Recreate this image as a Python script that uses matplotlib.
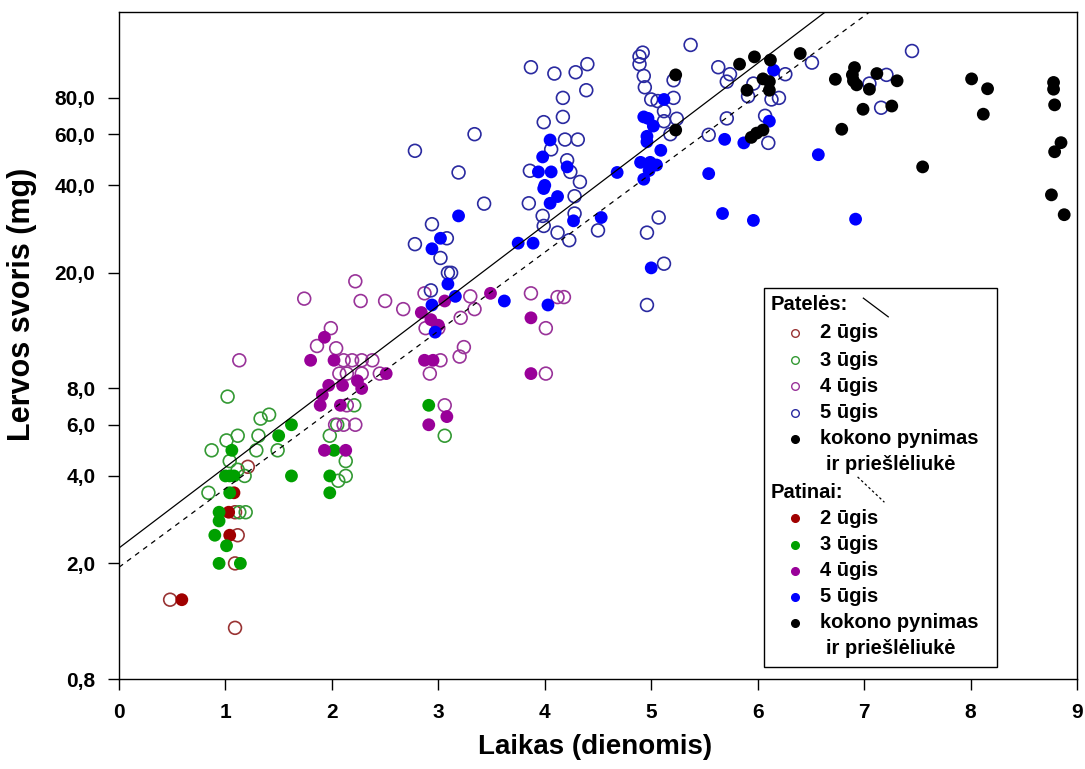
import matplotlib.pyplot as plt
import numpy as np
from matplotlib.ticker import NullLocator

plt.rcParams['font.family'] = ['Liberation Sans', 'DejaVu Sans']

# Patelės (open circles)
f2_x = [0.48, 1.09, 1.09, 1.115, 1.09, 1.21]
f2_y = [1.5, 1.2, 2.0, 2.5, 3.0, 4.3]

f3_x = [0.84, 0.87, 1.01, 1.115, 1.02, 1.04, 1.115, 1.18, 1.13, 1.19, 1.29, 1.31,
        1.33, 1.41, 1.49, 1.98, 2.05, 2.13, 2.13, 2.06, 2.21, 3.06]
f3_y = [3.5, 4.9, 5.3, 5.5, 7.5, 4.5, 4.2, 4.0, 3.0, 3.0, 4.9, 5.5,
        6.3, 6.5, 4.9, 5.5, 6.0, 4.5, 4.0, 3.85, 7.0, 5.5]

f4_x = [1.13, 1.74, 2.22, 2.27, 2.50, 2.67, 1.99, 1.86, 2.04, 2.11, 2.19, 2.28,
        2.38, 2.07, 2.14, 2.28, 2.45, 2.14, 2.03, 2.11, 2.22, 2.87, 3.30, 2.88,
        3.00, 3.34, 3.21, 3.24, 3.20, 3.02, 2.92, 3.06, 3.87, 4.12, 4.18, 4.01, 4.01]
f4_y = [10.0, 16.3, 18.7, 16.0, 16.0, 15.0, 12.9, 11.2, 11.0, 10.0, 10.0, 10.0,
        10.0, 9.0, 9.0, 9.0, 9.0, 7.0, 6.0, 6.0, 6.0, 17.0, 16.6, 12.9,
        12.9, 15.0, 14.0, 11.1, 10.3, 10.0, 9.0, 7.0, 17.0, 16.5, 16.5, 12.9, 9.0]

f5_x = [2.78, 3.34, 3.19, 2.94, 2.78, 3.08, 3.02, 3.09, 3.12, 2.93, 3.43, 4.96,
        3.99, 4.12, 4.23, 3.98, 4.28, 4.50, 5.07, 4.96, 5.12,
        3.87, 4.09, 4.29, 4.40, 4.39, 4.17, 4.17, 3.99, 4.19, 4.31, 4.06, 4.21,
        3.86, 4.24, 4.33, 4.28, 3.85,
        4.92, 4.89, 4.89, 4.93, 4.94, 5.00, 5.06, 5.12, 5.12, 5.18, 5.21, 5.21, 5.24,
        5.37, 5.63, 5.74, 5.71, 5.96, 5.91, 6.13, 6.20, 6.26, 5.71, 5.54, 6.07,
        6.10, 6.51, 7.05, 7.21, 7.16, 7.45]
f5_y = [52.6, 60.0, 44.3, 29.4, 25.1, 26.3, 22.5, 20.0, 20.0, 17.4, 34.6, 15.5,
        29.0, 27.5, 25.9, 31.4, 32.0, 28.0, 31.0, 27.5, 21.5,
        102, 97, 98, 104.5, 85, 80, 68.8, 66, 57.5, 57.5, 53.2, 48.8,
        44.9, 44.5, 41.1, 36.7, 34.7,
        114.5, 111, 104.5, 95.2, 87, 79, 78, 72, 66.5, 60, 92, 80, 67.8,
        121.7, 102, 96.5, 91, 89.6, 81, 79, 80, 96.5, 68, 59.7, 69.4,
        56, 105.8, 89.6, 96, 74, 116]

# Patinai (filled circles)
m2_x = [0.59, 1.04, 1.03, 1.08]
m2_y = [1.5, 2.5, 3.0, 3.5]

m3_x = [1.06, 1.00, 1.04, 1.08, 1.04, 0.94, 0.94, 0.90, 1.01, 0.94, 1.14, 1.50,
        1.62, 1.62, 2.02, 1.98, 1.98, 2.91]
m3_y = [4.9, 4.0, 4.0, 4.0, 3.5, 3.0, 2.8, 2.5, 2.3, 2.0, 2.0, 5.5,
        6.0, 4.0, 4.9, 4.0, 3.5, 7.0]

m4_x = [1.93, 1.80, 2.02, 2.51, 2.24, 2.28, 1.97, 1.91, 1.89, 2.10, 2.08, 1.93,
        2.13, 3.06, 3.49, 2.84, 2.93, 3.00, 2.87, 2.95, 3.08, 2.91, 3.87, 3.87]
m4_y = [12.0, 10.0, 10.0, 9.0, 8.5, 8.0, 8.2, 7.6, 7.0, 8.2, 7.0, 4.9,
        4.9, 16.0, 17.0, 14.6, 13.8, 13.2, 10.0, 10.0, 6.4, 6.0, 14.0, 9.0]

m5_x = [3.19, 2.94, 3.02, 3.09, 3.16, 2.94, 2.97, 3.62, 4.03, 3.75, 3.89, 4.27,
        4.53, 4.68, 5.00, 4.05, 3.98, 4.21, 3.94, 4.06, 4.00, 3.99, 4.12, 4.05,
        5.12, 4.93, 4.97, 5.02, 4.96, 4.96, 5.09, 4.90, 4.99, 5.05, 4.98, 4.93,
        6.15, 5.69, 5.87, 6.11, 5.54, 5.67, 5.96, 6.57, 6.92]
m5_y = [31.4, 24.2, 26.3, 18.3, 16.6, 15.5, 12.5, 16.0, 15.5, 25.3, 25.3, 30.2,
        31.0, 44.3, 20.8, 57.3, 50.1, 46.3, 44.5, 44.5, 40.0, 39.0, 36.6, 34.7,
        79, 68.8, 68, 64, 59, 56.5, 52.8, 48, 48, 47, 45, 42,
        99.6, 57.6, 56, 66.5, 43.9, 32, 30.3, 51, 30.6]

# kokono pynimas ir priešlėliukė
k_x = [5.23, 5.23, 5.83, 5.97, 6.12, 6.40, 6.05, 6.11, 6.11, 5.90, 5.94, 5.99,
       6.05, 6.73, 6.91, 6.89, 6.90, 6.93, 7.05, 7.12, 7.31, 6.99, 7.26, 6.79,
       7.55, 8.01, 8.16, 8.12, 8.78, 8.78, 8.79, 8.85, 8.79, 8.76, 8.88]
k_y = [96, 62, 104.5, 110.7, 108, 113.7, 93, 91, 85, 85, 58.5, 60.5,
       62, 92.7, 101.7, 96, 91.6, 88.7, 85.7, 97, 91.6, 73.1, 75, 62.4,
       46.3, 93, 86, 70.3, 90.4, 85.7, 75.7, 56.1, 52.2, 37.1, 31.7]

# regresijos: y = a * 10**(b*x)
fem_a, fem_b = 2.26, 0.278
mal_a, mal_b = 1.94, 0.271

yticks = [0.8, 2, 4, 6, 8, 20, 40, 60, 80]
ytick_labels = ['0,8', '2,0', '4,0', '6,0', '8,0', '20,0', '40,0', '60,0', '80,0']

c2_open, c2 = '#993333', '#a00000'
c3_open, c3 = '#339933', '#00a000'
c4_open, c4 = '#993399', '#990099'
c5_open, c5 = '#2a2aa0', '#0000ff'

fig = plt.figure(figsize=(10.85, 7.69), dpi=100)
ax = fig.add_axes([0.1097, 0.117, 0.8829, 0.8674])

S = 85
for xs, ys, c in [(f2_x, f2_y, c2_open), (f3_x, f3_y, c3_open),
                  (f4_x, f4_y, c4_open), (f5_x, f5_y, c5_open)]:
    ax.scatter(xs, ys, s=S, facecolors='none', edgecolors=c, linewidths=1.2, zorder=2)
for xs, ys, c in [(m2_x, m2_y, c2), (m3_x, m3_y, c3),
                  (m4_x, m4_y, c4), (m5_x, m5_y, c5), (k_x, k_y, 'black')]:
    ax.scatter(xs, ys, s=S, color=c, edgecolors='none', zorder=3)

xx = np.linspace(0, 9, 300)
ax.plot(xx, fem_a * 10 ** (fem_b * xx), color='black', lw=0.9, zorder=4)
ax.plot(xx, mal_a * 10 ** (mal_b * xx), color='black', lw=0.9, ls=(0, (4, 4)), zorder=4)

ax.set_yscale('log')
ax.set_xlim(0, 9)
ax.set_ylim(0.8, 158)
ax.set_xticks(range(10))
ax.set_yticks(yticks)
ax.set_yticklabels(ytick_labels)
ax.yaxis.set_minor_locator(NullLocator())
ax.tick_params(axis='both', direction='out', length=8, width=1)
ax.tick_params(axis='x', labelsize=15, pad=9)
ax.tick_params(axis='y', labelsize=15, pad=9)
for lab in ax.get_xticklabels() + ax.get_yticklabels():
    lab.set_fontweight('bold')
for sp in ax.spines.values():
    sp.set_linewidth(1)

ax.set_xlabel('Laikas (dienomis)', fontsize=20, fontweight='bold')
ax.xaxis.set_label_coords(0.497, -0.082)
ax.set_ylabel('Lervos svoris (mg)', fontsize=22, fontweight='bold')
ax.yaxis.set_label_coords(-0.086, 0.561)

# legenda
T = ax.transAxes
box = plt.Rectangle((0.673, 0.018), 0.243, 0.568, transform=T, facecolor='white',
                    edgecolor='black', lw=1, zorder=5)
ax.add_patch(box)
fs = 14.5
ax.text(0.680, 0.561, 'Patelės:', transform=T, fontsize=fs, fontweight='bold',
        va='center', zorder=6)
ax.plot([0.777, 0.803], [0.571, 0.543], transform=T, color='black', lw=0.9, zorder=6)
ax.text(0.680, 0.280, 'Patinai:', transform=T, fontsize=fs, fontweight='bold',
        va='center', zorder=6)
ax.plot([0.771, 0.799], [0.303, 0.265], transform=T, color='black', lw=0.9,
        ls=(0, (2, 2)), zorder=6)

labels = ['2 ūgis', '3 ūgis', '4 ūgis', '5 ūgis']
fem_rows = [0.519, 0.478, 0.439, 0.399]
mal_rows = [0.241, 0.201, 0.162, 0.123]
opens = [c2_open, c3_open, c4_open, c5_open]
fills = [c2, c3, c4, c5]
for lab, yf, ym, co, cf in zip(labels, fem_rows, mal_rows, opens, fills):
    ax.plot(0.706, yf, 'o', transform=T, ms=5.5, mfc='none', mec=co, mew=1, zorder=6)
    ax.text(0.732, yf, lab, transform=T, fontsize=fs, fontweight='bold', va='center', zorder=6)
    ax.plot(0.706, ym, 'o', transform=T, ms=5.5, color=cf, zorder=6)
    ax.text(0.732, ym, lab, transform=T, fontsize=fs, fontweight='bold', va='center', zorder=6)
for y1, y2 in [(0.360, 0.321), (0.084, 0.046)]:
    ax.plot(0.706, y1, 'o', transform=T, ms=5.5, color='black', zorder=6)
    ax.text(0.732, y1, 'kokono pynimas', transform=T, fontsize=fs, fontweight='bold',
            va='center', zorder=6)
    ax.text(0.738, y2, 'ir priešlėliukė', transform=T, fontsize=fs, fontweight='bold',
            va='center', zorder=6)

fig.savefig('out.png', dpi=100)
